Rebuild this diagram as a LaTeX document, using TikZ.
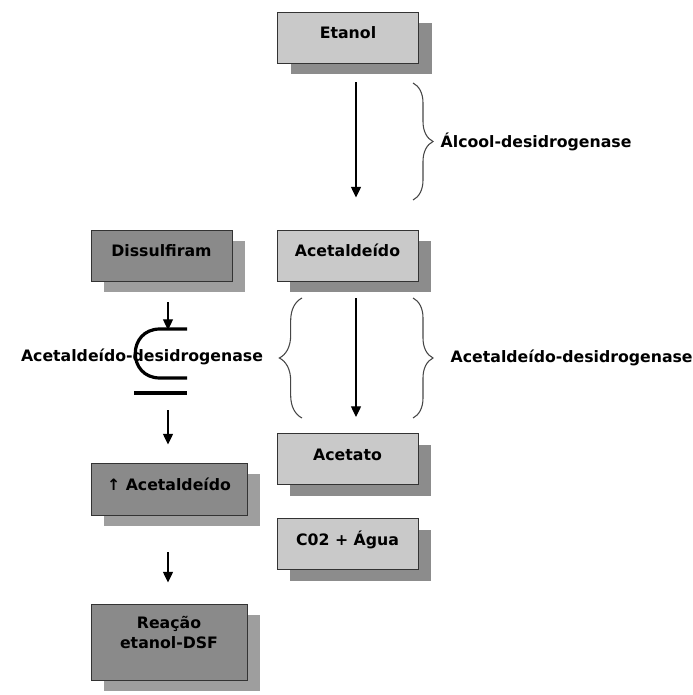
\documentclass[tikz,border=0pt]{standalone}
\usepackage{fontspec}
\setmainfont{DejaVu Sans}
\usetikzlibrary{arrows.meta,calc,positioning,shadows,decorations.pathreplacing}
\definecolor{metaLight}{RGB}{201,201,201}
\definecolor{metaShadow}{RGB}{140,140,140}
\definecolor{drugDark}{RGB}{138,138,138}
\definecolor{drugShadow}{RGB}{158,158,158}
\definecolor{braceGray}{RGB}{70,70,70}

\begin{document}
\begin{tikzpicture}[x=0.75pt,y=-0.75pt,
    font=\fontsize{11.8}{15}\selectfont\bfseries,
    basebox/.style={draw=black!80,line width=0.7pt,minimum width=105.75pt,minimum height=38.25pt,
      inner sep=2pt,text height=9pt,text depth=7pt},
    metabox/.style={basebox,fill=metaLight,
      drop shadow={shadow xshift=9.75pt,shadow yshift=-8.25pt,fill=metaShadow,opacity=1}},
    drugbox/.style={basebox,fill=drugDark,
      drop shadow={shadow xshift=9.75pt,shadow yshift=-8.25pt,fill=drugShadow,opacity=1}},
    flow/.style={line width=0.9pt,-{Triangle[width=7.5pt,length=8pt]}},
    enzbrace/.style={braceGray,line width=0.8pt,decorate,decoration={brace,amplitude=#1}},
    inhib/.style={line width=2.4pt}]
  \useasboundingbox (0,0) rectangle (692,695);

  % via principal
  \node[metabox] (etanol) at (348,37.5) {Etanol};
  \node[metabox] (acetal) at (347.5,255.5) {Acetaldeído};
  \node[metabox] (acetato) at (347.5,459) {Acetato};
  \node[metabox] (agua) at (347.5,544) {C02 + Água};

  % via do dissulfiram
  \node[drugbox] (dsf) at (161.5,255.5) {Dissulfiram};
  \node[drugbox,minimum width=117pt,minimum height=39pt] (upacet) at (169,489) {↑ Acetaldeído};
  \node[drugbox,minimum width=117pt,minimum height=57pt,align=center,text depth=0pt] (reacao) at (169,642) {Reação\\etanol-DSF};

  \draw[flow] ($(etanol.south)+(8,19)$) -- ($(acetal.north)+(8.5,-32)$);
  \draw[flow] ($(acetal.south)+(8.5,17)$) -- ($(acetato.north)+(8.5,-16)$);

  % enzimas
  \draw[enzbrace=15pt] (413,83) -- (413,200);
  \node[anchor=west] (adh) at (436,142) {Álcool-desidrogenase};
  \draw[enzbrace=15pt] (413,298) -- (413,418);
  \node[anchor=west] (aldhR) at (446,358) {Acetaldeído-desidrogenase};
  \draw[enzbrace=17pt] (302,418) -- (302,298);
  \node (aldhL) at (142,357) {Acetaldeído-desidrogenase};

  % inibicao
  \coordinate (ctop) at (168,330);
  \coordinate (cbar) at (160,393);
  \draw[inhib] (187,329) -- (160,329) .. controls (127,329) and (127,378) .. (160,378) -- (187,378);
  \draw[inhib] (134,393) -- (187,393);
  \draw[flow] ($(dsf.south)+(6.5,21)$) -- (ctop);
  \draw[flow] ($(cbar)+(8,17)$) -- ($(upacet.north)+(-1,-18)$);
  \draw[flow] ($(upacet.south)+(-1,37)$) -- ($(reacao.north)+(-1,-21)$);
\end{tikzpicture}
\end{document}
